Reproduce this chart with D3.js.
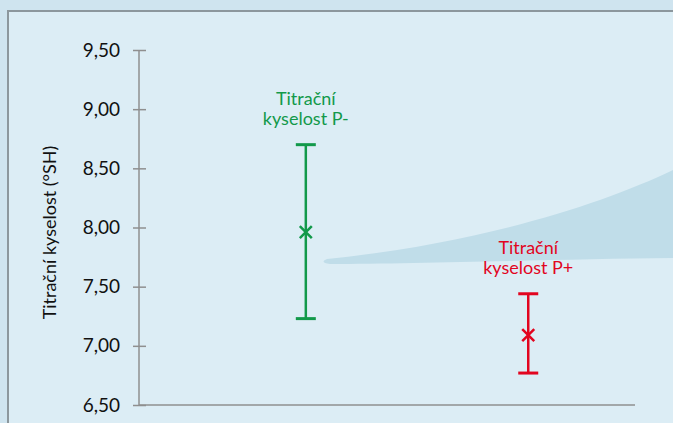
<!DOCTYPE html>
<html lang="cs">
<head>
    <meta charset="UTF-8">
    <title>Titrační kyselost</title>
    <script src="https://d3js.org/d3.v7.min.js"></script>
    <style>
        html, body { margin: 0; padding: 0; background: #cfe4ef; }
        svg { display: block; font-family: Lato, "Open Sans", sans-serif; }
    </style>
</head>
<body>
    <svg id="chart"></svg>

    <script>
        // data
        const categories = ["P-", "P+"];
        const labels = [["Titrační", "kyselost P-"], ["Titrační", "kyselost P+"]];
        const means = [7.96, 7.09];
        const upper = [8.70, 7.44];
        const lower = [7.23, 6.77];
        const colors = ["#12994a", "#e2051f"];
        const yTicks = [6.5, 7.0, 7.5, 8.0, 8.5, 9.0, 9.5];

        const width = 673, height = 423;
        const svg = d3.select("#chart")
                      .attr("width", width)
                      .attr("height", height);

        // panel background + frame
        svg.append("rect")
           .attr("x", 7).attr("y", 10)
           .attr("width", width).attr("height", height)
           .attr("fill", "#dcedf5");
        svg.append("path")
           .attr("d", `M8,${height} V11 H${width}`)
           .attr("fill", "none")
           .attr("stroke", "#8c979d")
           .attr("stroke-width", 2);

        // decorative swoosh
        svg.append("path")
           .attr("d", "M673,170 C600,205 480,243 327,259 C322,261 322,263 330,264 C420,264 560,259 673,258 Z")
           .attr("fill", "#c0dde9");

        const x = d3.scaleLinear()
                    .domain([0, 2.23])
                    .range([139, 635]);
        const xPos = i => x(i + 0.75);

        const y = d3.scaleLinear()
                    .domain([6.5, 9.5])
                    .range([405, 50]);

        // y axis
        const yAxis = svg.append("g")
           .attr("transform", "translate(139,0)")
           .call(d3.axisLeft(y)
                   .tickValues(yTicks)
                   .tickSize(6)
                   .tickFormat(d => d3.format(".2f")(d).replace(".", ",")));
        yAxis.select(".domain").attr("stroke", "#8f8f8f").attr("stroke-width", 1.5)
             .attr("d", `M0,${y(9.5)}V${y(6.5)}`);
        yAxis.selectAll(".tick line")
             .attr("stroke", "#8f8f8f").attr("stroke-width", 1.5)
             .attr("x1", -6).attr("x2", 7);
        yAxis.selectAll(".tick text")
             .attr("x", -19)
             .attr("fill", "#111")
             .style("font-size", "19px")
             .style("font-family", "Lato, sans-serif");

        // x axis line
        svg.append("line")
           .attr("x1", x(0)).attr("x2", x(2.23))
           .attr("y1", y(6.5)).attr("y2", y(6.5))
           .attr("stroke", "#8f8f8f")
           .attr("stroke-width", 1.5);

        // y axis title
        svg.append("text")
           .attr("transform", `translate(56,${(y(6.5) + y(9.5)) / 2 + 5}) rotate(-90)`)
           .attr("text-anchor", "middle")
           .attr("fill", "#111")
           .style("font-size", "18px")
           .text("Titrační kyselost (°SH)");

        const groups = svg.selectAll(".series")
           .data(categories)
           .enter()
           .append("g")
           .attr("class", "series");

        // whiskers
        groups.append("line")
           .attr("x1", (d, i) => xPos(i)).attr("x2", (d, i) => xPos(i))
           .attr("y1", (d, i) => y(upper[i])).attr("y2", (d, i) => y(lower[i]))
           .attr("stroke", (d, i) => colors[i])
           .attr("stroke-width", 2.5);

        // caps
        [upper, lower].forEach(arr => {
            groups.append("line")
               .attr("x1", (d, i) => xPos(i) - 10).attr("x2", (d, i) => xPos(i) + 10)
               .attr("y1", (d, i) => y(arr[i])).attr("y2", (d, i) => y(arr[i]))
               .attr("stroke", (d, i) => colors[i])
               .attr("stroke-width", 3);
        });

        // mean markers (x)
        groups.append("path")
           .attr("d", (d, i) => {
               const cx = xPos(i), cy = y(means[i]), s = 6;
               return `M${cx - s},${cy - s}L${cx + s},${cy + s}M${cx - s},${cy + s}L${cx + s},${cy - s}`;
           })
           .attr("stroke", (d, i) => colors[i])
           .attr("stroke-width", 2.5)
           .attr("fill", "none");

        // labels above the whiskers
        groups.append("text")
           .attr("x", (d, i) => xPos(i))
           .attr("y", (d, i) => y(upper[i]) - 40)
           .attr("text-anchor", "middle")
           .attr("fill", (d, i) => colors[i])
           .style("font-size", "18px")
           .selectAll("tspan")
           .data((d, i) => labels[i].map(t => ({ t, i })))
           .enter()
           .append("tspan")
           .attr("x", d => xPos(d.i))
           .attr("dy", (d, k) => k === 0 ? 0 : 20)
           .text(d => d.t);
    </script>
</body>
</html>
